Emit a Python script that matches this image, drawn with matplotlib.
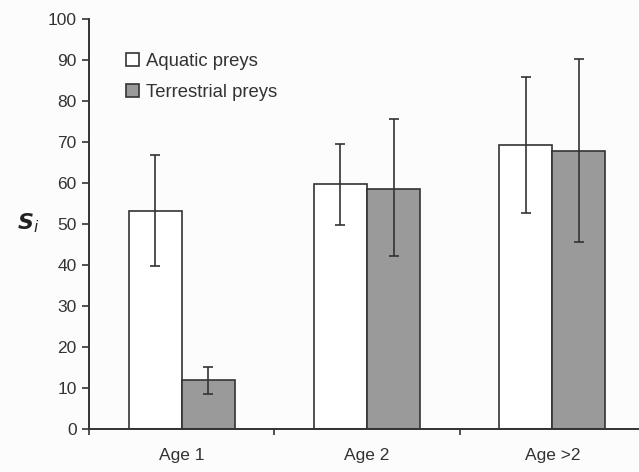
import matplotlib
matplotlib.use("Agg")
import matplotlib.pyplot as plt
import numpy as np

plt.rcParams['font.family'] = ['Liberation Sans', 'DejaVu Sans']

categories = ["Age 1", "Age 2", "Age >2"]
aquatic = [53.2, 59.7, 69.3]
aquatic_lo = [39.7, 49.7, 52.8]
aquatic_hi = [66.8, 69.5, 85.9]
terrestrial = [11.9, 58.5, 67.8]
terrestrial_lo = [8.5, 42.3, 45.5]
terrestrial_hi = [15.2, 75.5, 90.3]

fig = plt.figure(figsize=(6.39, 4.72), dpi=100)
fig.patch.set_facecolor('#fcfcfc')
ax = fig.add_axes([89/639, 1-429/472, 556/639, 410/472])
ax.set_facecolor('#fcfcfc')

x = np.arange(len(categories))
w = 0.286
a = np.array(aquatic); t = np.array(terrestrial)
aerr = [a - np.array(aquatic_lo), np.array(aquatic_hi) - a]
terr = [t - np.array(terrestrial_lo), np.array(terrestrial_hi) - t]
ax.bar(x - w/2, a, w, color='white', edgecolor='#333333', linewidth=1.2,
       yerr=aerr, error_kw=dict(ecolor='#333333', elinewidth=1.2, capsize=3.5, capthick=1.2),
       label='Aquatic preys', zorder=2)
ax.bar(x + w/2, t, w, color='#9a9a9a', edgecolor='#333333', linewidth=1.2,
       yerr=terr, error_kw=dict(ecolor='#333333', elinewidth=1.2, capsize=3.5, capthick=1.2),
       label='Terrestrial preys', zorder=2)

ax.set_xlim(-0.5, 2.5)
ax.set_ylim(0, 100)
ax.set_yticks(np.arange(0, 101, 10))
ax.set_xticks(x)
ax.set_xticklabels(categories)
ax.set_xticks([-0.5, 0.5, 1.5], minor=True)
ax.tick_params(axis='x', which='major', length=0, pad=14, labelsize=12.5, colors='#333333')
ax.tick_params(axis='x', which='minor', length=4, width=1.2, color='#333333')
ax.tick_params(axis='y', length=5, width=1.2, labelsize=12.5, color='#333333', labelcolor='#333333', pad=4)
for s in ['top', 'right']:
    ax.spines[s].set_visible(False)
for s in ['left', 'bottom']:
    ax.spines[s].set_linewidth(1.4)
    ax.spines[s].set_color('#333333')

fig.text(28/639, 1-223/472, r'$\boldsymbol{S}_{\mathit{i}}$', fontsize=16, ha='center', va='center', color='#222222')

leg = ax.legend(loc='upper left', bbox_to_anchor=((126-89)/556, 1-(53-19)/410), frameon=False,
                fontsize=13.3, handlelength=0.7, handleheight=0.7, handletextpad=0.4,
                labelspacing=0.75, labelcolor='#333333', borderpad=0, borderaxespad=0)

fig.savefig('out.png', dpi=100, facecolor=fig.get_facecolor())
